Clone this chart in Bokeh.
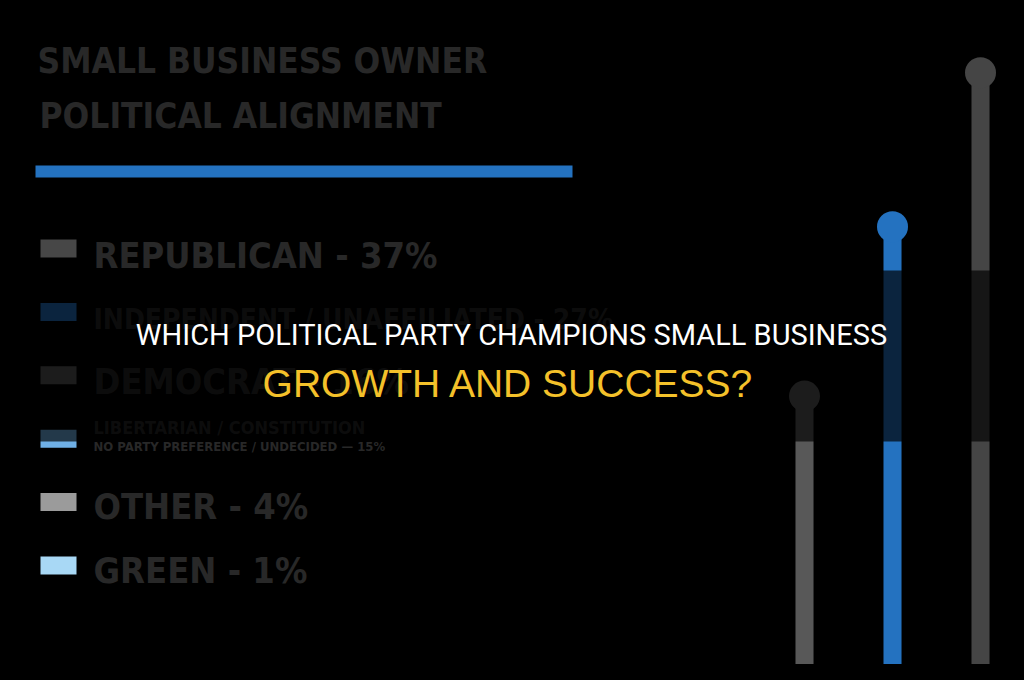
import re
from bokeh.plotting import figure
from bokeh.models import Range1d, ColumnDataSource
from bokeh.core.properties import value
from bokeh.embed import file_html
from bokeh.resources import INLINE

# ---------------- data ----------------
parties = ["REPUBLICAN", "INDEPENDENT / UNAFFILIATED", "DEMOCRAT",
           "LIBERTARIAN / CONSTITUTION", "OTHER", "GREEN"]
shares = [37, 27, 16, 15, 4, 1]
swatch_colors = ["#474747", "#2472c0", "#585858", "#6fb0e6", "#9b9b9b", "#a8d8f5"]
legend_labels = ["REPUBLICAN - 37%", "INDEPENDENT / UNAFFILIATED - 27%", "DEMOCRAT - 16%",
                 "LIBERTARIAN / CONSTITUTION", "OTHER - 4%", "GREEN - 1%"]
row4_sub = "NO PARTY PREFERENCE / UNDECIDED  \u2014  15%"

# lollipop stems: Democrat, Independent, Republican (left -> right)
stem_parties = ["DEMOCRAT", "INDEPENDENT / UNAFFILIATED", "REPUBLICAN"]
stem_values = [16, 27, 37]
stem_colors = ["#585858", "#2472c0", "#454545"]

chart_title = ["SMALL BUSINESS OWNER", "POLITICAL ALIGNMENT"]
headline_1 = "WHICH POLITICAL PARTY CHAMPIONS SMALL BUSINESS"
headline_2 = "GROWTH AND SUCCESS?"

# ---------------- figure (coordinates = screen pixels) ----------------
W, H = 1008, 664
p = figure(width=W, height=H, output_backend="svg", toolbar_location=None,
           x_range=Range1d(0, W), y_range=Range1d(H, 0),
           min_border=0, background_fill_color="black", border_fill_color="black",
           outline_line_color=None, x_axis_location=None, y_axis_location=None)
p.grid.visible = False

# value scale for the lollipops
share_lo, share_hi = -1.43, 41.69
p.extra_y_ranges = {"share": Range1d(share_lo, share_hi)}
p.extra_x_ranges = {"stem": Range1d(-9.136, 2.318)}

HEAVY = value("DejaVu Sans Condensed")
DARK_TEXT = "#282828"
K = 0.37  # baseline compensation (fraction of font size)


def put_text(x, baseline, txt, size, font=HEAVY, bold=True, color=DARK_TEXT, align="left"):
    p.text(x=[x], y=[baseline - K * size], text=[txt], text_font=font,
           text_font_style="bold" if bold else "normal", text_font_size=f"{size}px",
           text_color=color, text_baseline="alphabetic", text_align=align)


# big dark title
put_text(37, 73, chart_title[0], 35)
put_text(39, 128, chart_title[1], 35)
# blue rule under the title
p.quad(left=[35], right=[572], top=[165], bottom=[177], fill_color="#2472c0", line_color=None)

# legend
row_y0, row_dy = 248, 63.4
sw_y = [row_y0 + row_dy * i for i in range(len(parties))]
src_sw = ColumnDataSource(dict(left=[40] * 6, right=[76] * 6,
                               top=[y - 9 for y in sw_y], bottom=[y + 9 for y in sw_y],
                               color=swatch_colors))
p.quad(left="left", right="right", top="top", bottom="bottom", fill_color="color",
       line_color=None, source=src_sw)

sizes = [36, 28, 36, 18, 36, 36]
base_off = [20, 18, 20, -5, 18, 18]
for i, lab in enumerate(legend_labels):
    put_text(93, sw_y[i] + base_off[i], lab, sizes[i])
put_text(93, sw_y[3] + 13, row4_sub, 13)

# lollipops
idx = list(range(len(stem_values)))
src_st = ColumnDataSource(dict(x=idx, top=stem_values, bottom=[share_lo] * 3, color=stem_colors))
p.vbar(x="x", top="top", bottom="bottom", width=0.205, fill_color="color", line_color=None,
       source=src_st, x_range_name="stem", y_range_name="share")
p.scatter(x="x", y="top", size=31, fill_color="color", line_color=None, source=src_st,
          x_range_name="stem", y_range_name="share")

# dark translucent band behind the headline
p.quad(left=[0], right=[W], top=[270], bottom=[441], fill_color="black",
       fill_alpha=0.68, line_color=None)

# headline
put_text(511, 345, headline_1, 29, font=value("Roboto"), bold=False, color="#ffffff", align="center")
put_text(508, 397, headline_2, 39, font=value("Liberation Sans"), bold=False, color="#f4c12a",
         align="center")

html = file_html(p, INLINE, title="Small business owner political alignment")
html = re.sub(r"<body[^>]*>", '<body style="background-color:#000000;">', html, count=1)
html = html.replace("</head>", "<style>html,body{background-color:#000000;}</style></head>", 1)
open("out.html", "w").write(html)
